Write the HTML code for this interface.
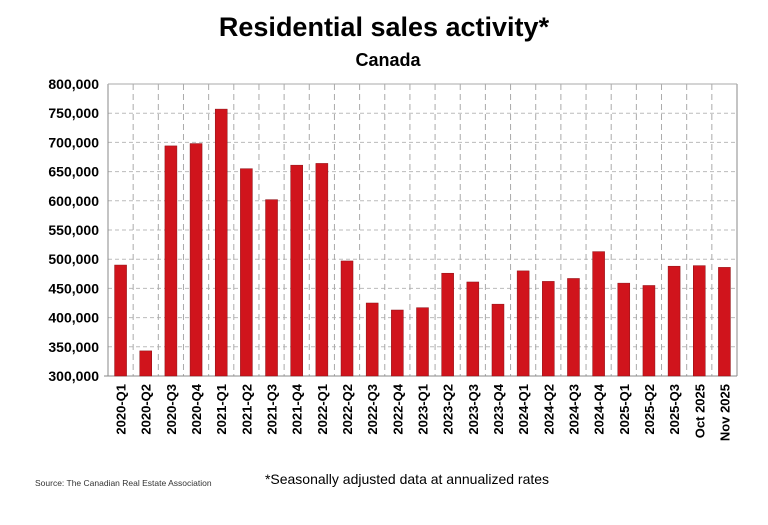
<!DOCTYPE html><html><head><style>body{margin:0;background:#fff;width:768px;height:520px;overflow:hidden;font-family:"Liberation Sans",sans-serif}</style></head><body>
<svg width="768" height="520" xmlns="http://www.w3.org/2000/svg" font-family="Liberation Sans, sans-serif">
<text x="384" y="36" text-anchor="middle" font-size="27" font-weight="bold">Residential sales activity*</text>
<text x="388" y="66" text-anchor="middle" font-size="18" font-weight="bold">Canada</text>
<g id="g"></g>
<text x="35" y="486" font-size="8.5" fill="#333">Source: The Canadian Real Estate Association</text>
<text x="407" y="484" text-anchor="middle" font-size="14">*Seasonally adjusted data at annualized rates</text>
</svg>
<script>
const L=108,R=737,T=84,B=376,vals=[490,343,694,698,757,655,602,661,664,497,425,413,417,476,461,423,480,462,467,513,459,455,488,489,486];
const labs=["2020-Q1","2020-Q2","2020-Q3","2020-Q4","2021-Q1","2021-Q2","2021-Q3","2021-Q4","2022-Q1","2022-Q2","2022-Q3","2022-Q4","2023-Q1","2023-Q2","2023-Q3","2023-Q4","2024-Q1","2024-Q2","2024-Q3","2024-Q4","2025-Q1","2025-Q2","2025-Q3","Oct 2025","Nov 2025"];
const y=v=>B-(v-300)*(B-T)/500,w=(R-L)/25;let s='';
for(let i=0;i<=10;i++){const v=300+50*i,yy=y(v);if(i>0)s+=`<line x1="${L}" x2="${R}" y1="${yy}" y2="${yy}" stroke="#bbb" stroke-dasharray="4,3"/>`;s+=`<text x="99" y="${yy+5}" text-anchor="end" font-size="14" font-weight="bold">${v},000</text>`;}
for(let i=1;i<=25;i++){const x=L+i*w;s+=`<line x1="${x}" x2="${x}" y1="${T}" y2="${B}" stroke="#aaa" stroke-dasharray="6,4"/>`;}
s+=`<line x1="${L}" x2="${L}" y1="${T}" y2="${B}" stroke="#888"/><line x1="${R}" x2="${R}" y1="${T}" y2="${B}" stroke="#888"/><line x1="${L}" x2="${R}" y1="${T}" y2="${T}" stroke="#aaa"/><line x1="${L-4}" x2="${R}" y1="${B}" y2="${B}" stroke="#888"/>`;
vals.forEach((v,i)=>{const c=L+(i+.5)*w;s+=`<rect x="${c-6}" y="${y(v)}" width="12" height="${B-y(v)}" fill="#d0141c" stroke="#8a1015" stroke-width="0.5"/>`;
s+=`<text transform="translate(${c+5},${B+8}) rotate(-90)" text-anchor="end" font-size="13" font-weight="bold">${labs[i]}</text>`;});
document.getElementById('g').innerHTML=s;
</script></body></html>
